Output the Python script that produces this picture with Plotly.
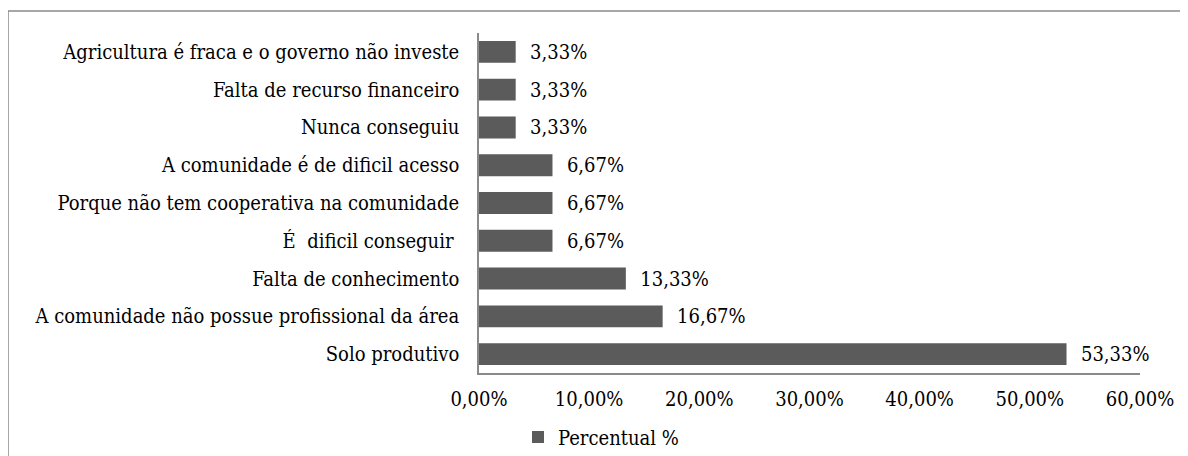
import plotly.graph_objects as go

categories = [
    "Solo produtivo",
    "A comunidade não possue profissional da área",
    "Falta de conhecimento",
    "É  dificil conseguir ",
    "Porque não tem cooperativa na comunidade",
    "A comunidade é de dificil acesso",
    "Nunca conseguiu",
    "Falta de recurso financeiro",
    "Agricultura é fraca e o governo não investe",
]
values = [53.33, 16.67, 13.33, 6.67, 6.67, 6.67, 3.33, 3.33, 3.33]
series_name = "Percentual %"
x_ticks = [0, 10, 20, 30, 40, 50, 60]
x_tick_labels = ["0,00%", "10,00%", "20,00%", "30,00%", "40,00%", "50,00%", "60,00%"]

FONT = "DejaVu Serif Condensed, DejaVu Serif"
FS = 20

fig = go.Figure()
fig.add_trace(go.Bar(
    y=categories, x=values, orientation="h", name=series_name,
    marker=dict(color="#5b5b5b", line=dict(width=0)),
    text=["  " + f"{v:.2f}".replace(".", ",") + "%" for v in values],
    textposition="outside", constraintext="none",
    textfont=dict(family=FONT, size=FS, color="#000000"),
    cliponaxis=False,
))

OFF = 8  # page body margin
L, R, T, B = 479 - OFF, 1140 - OFF, 33 - OFF, 373 - OFF
W, H = 1180, 448
def px(p):
    return (p - OFF - L) / (R - L)
def py(q):
    return (B - (q - OFF)) / (B - T)

fig.update_layout(
    width=W, height=H,
    margin=dict(l=L, r=W - R, t=T, b=H - B, autoexpand=False),
    paper_bgcolor="white", plot_bgcolor="white",
    font=dict(family=FONT, size=FS, color="#000000"),
    bargap=0.42,
    showlegend=True,
    legend=dict(orientation="h", x=px(518), xanchor="left", y=py(437), yanchor="middle",
                font=dict(family=FONT, size=FS), itemwidth=30),
    xaxis=dict(range=[0, 60], tickvals=x_ticks, ticktext=x_tick_labels, automargin=False,
               showgrid=False, zeroline=False, showline=True, linecolor="#8a8a8a", linewidth=1.5,
               ticks="", ticklabelstandoff=7, tickfont=dict(family=FONT, size=FS)),
    yaxis=dict(showgrid=False, zeroline=False, showline=True, linecolor="#8a8a8a", linewidth=1.5,
               automargin=False,
               ticks="", ticklabelstandoff=14, tickfont=dict(family=FONT, size=FS)),
    shapes=[dict(type="rect", xref="paper", yref="paper",
                 x0=px(8), x1=px(1200), y0=py(470), y1=py(11),
                 line=dict(color="#8a8a8a", width=1.5), fillcolor="rgba(0,0,0,0)", layer="below")],
)

fig.write_html("out.html")
